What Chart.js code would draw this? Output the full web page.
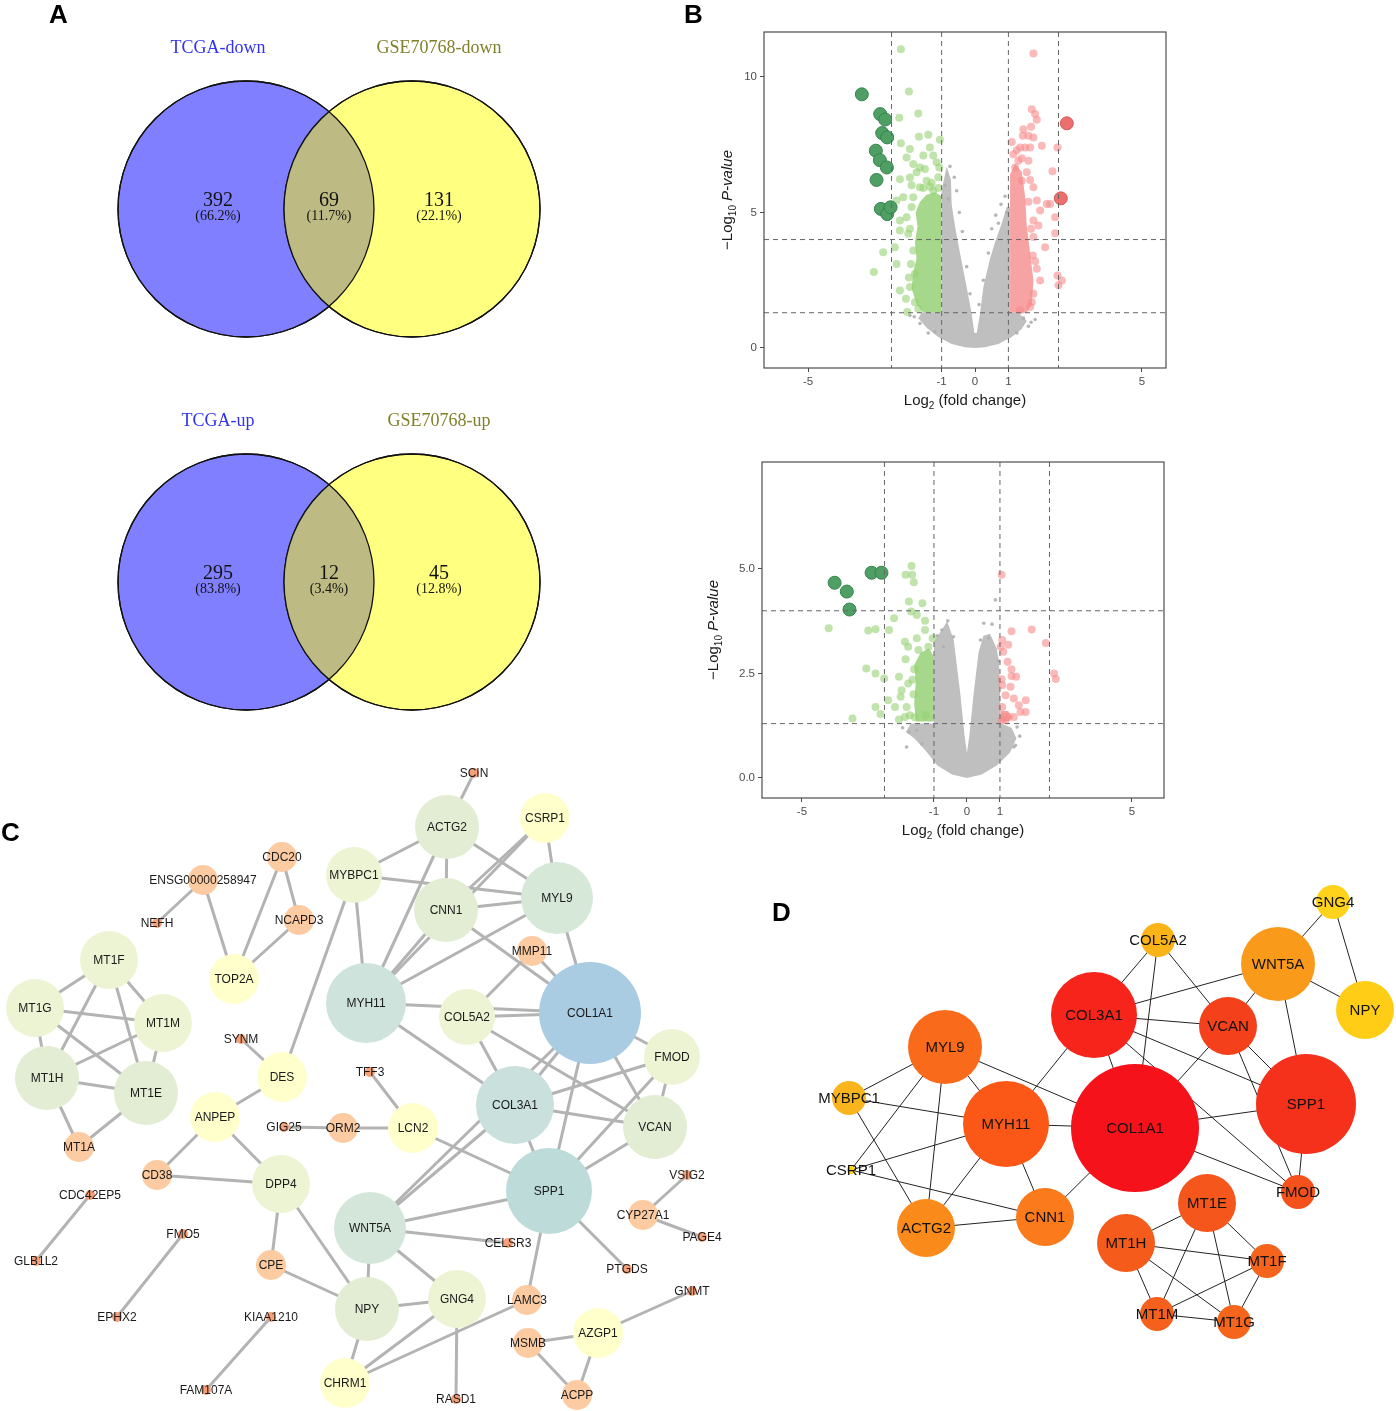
<!DOCTYPE html>
<html>
<head>
<meta charset="utf-8">
<script src="https://cdn.jsdelivr.net/npm/chart.js@4.4.1/dist/chart.umd.min.js"></script>
<style>
  body { margin: 0; background: #fff; }
  #page { position: relative; width: 1396px; height: 1411px; overflow: hidden; background: #fff; }
  canvas { position: absolute; }
  .tag { position: absolute; font: bold 26px "Liberation Sans", Arial, sans-serif; line-height: 26px; color: #000; }
</style>
</head>
<body>
<div id="page">
  <canvas id="venn" width="690" height="760" style="left:0;top:0"></canvas>
  <canvas id="volcUp" width="500" height="430" style="left:690px;top:0"></canvas>
  <canvas id="volcDown" width="500" height="420" style="left:690px;top:440px"></canvas>
  <canvas id="netC" width="760" height="651" style="left:0;top:760px"></canvas>
  <canvas id="netD" width="636" height="480" style="left:760px;top:870px"></canvas>
  <div class="tag" style="left:49px;top:1px">A</div>
  <div class="tag" style="left:684px;top:1px">B</div>
  <div class="tag" style="left:1px;top:819px">C</div>
  <div class="tag" style="left:772px;top:899px">D</div>
</div>
<script>
const FONT = '"Liberation Sans", Arial, sans-serif';

// ---- A: venn counts
const vennSets = [['TCGA-down', 'GSE70768-down'], ['TCGA-up', 'GSE70768-up']];
const vennCounts = [[392, 69, 131], [295, 12, 45]];
const vennPercents = [['66.2%', '11.7%', '22.1%'], ['83.8%', '3.4%', '12.8%']];

// ---- B: volcano plots, [log2FC, -log10 p]
const volcanoXTicks = [-5, -1, 0, 1, 5];
const upperYTicks = [0, 5, 10];
const lowerYTicks = [0, 2.5, 5];
const lowerYLabels = ['0.0', '2.5', '5.0'];
const fcCuts = [-2.5, -1, 1, 2.5];
const pCuts = [1.3, 4];

const upperDarkGreen = [[-3.39,9.36],[-2.84,8.63],[-2.69,8.43],[-2.78,7.93],[-2.63,7.77],[-2.97,7.28],[-2.85,6.93],[-2.64,6.66],[-2.95,6.2],[-2.82,5.13],[-2.63,4.94],[-2.53,5.19]];
const upperDarkRed = [[2.75,8.29],[2.57,5.52]];
const upperGreen = [[-2.22,11.02],[-1.98,9.46],[-2.27,8.5],[-1.7,8.65],[-1.68,7.79],[-1.4,7.87],[-1.05,7.68],[-2.22,7.55],[-1.95,7.34],[-1.35,7.4],[-2.05,7.03],[-1.85,6.79],[-1.65,6.66],[-1.15,6.85],[-1.07,6.66],[-2.25,6.23],[-1.95,6.29],[-1.75,6.48],[-1.45,6.17],[-1.65,5.93],[-1.25,5.8],[-2.35,5.44],[-2.15,5.56],[-1.85,5.56],[-2.45,5.19],[-2.25,4.7],[-2.05,4.82],[-2.25,4.33],[-2.0,4.21],[-2.4,3.72],[-2.75,3.53],[-1.85,3.6],[-3.03,2.8],[-2.35,3.1],[-2.25,2.12],[-2.07,1.82],[-2.03,1.33],[-1.95,2.25],[-1.8,2.74],[-1.8,1.69],[-1.55,5.9],[-1.3,6.1],[-1.1,6.3],[-1.9,5.2],[-1.95,4.4],[-1.92,3.1],[-1.98,2.6],[-1.7,1.45],[-1.5,6.6],[-1.25,7.1],[-1.55,7.1],[-1.9,6.0],[-1.35,5.95],[-1.1,5.9]];
const upperRed = [[1.75,10.87],[1.7,8.81],[1.8,8.63],[1.85,8.42],[1.68,8.16],[1.45,8.07],[1.43,7.83],[1.6,7.83],[1.75,7.77],[1.35,7.4],[1.5,7.4],[1.65,7.4],[2.0,7.46],[2.47,7.4],[1.15,7.15],[1.3,6.91],[1.6,6.91],[1.2,6.66],[1.55,6.48],[2.32,6.52],[1.4,6.17],[1.75,5.93],[1.85,5.44],[2.15,5.31],[2.25,5.31],[1.95,5.07],[2.4,4.82],[1.75,4.7],[1.9,4.52],[2.4,4.23],[1.75,4.09],[2.1,3.72],[1.73,3.41],[1.85,2.92],[1.95,2.49],[2.47,2.67],[2.6,2.49],[2.5,2.31],[1.75,2.0],[1.7,1.69],[1.65,1.51],[1.35,1.39],[1.1,7.6],[1.25,7.3],[1.4,7.0],[1.65,6.2],[1.6,5.4],[1.68,4.4],[1.8,3.2]];
const upperGray = [[-0.75,6.7],[-0.62,6.3],[-0.55,5.8],[-0.47,5.0],[-0.38,4.3],[0.5,4.4],[0.62,4.9],[0.78,5.3],[0.9,5.6],[-1.65,0.9],[-1.4,0.55],[1.68,0.95],[1.6,0.8],[0.4,3.5],[-0.25,3.0],[0.25,2.5],[-1.82,1.15],[1.45,1.1],[-0.9,6.0],[-0.8,5.5],[0.95,5.0],[0.7,4.6],[-0.15,2.0],[0.12,1.6],[1.8,1.05],[-1.95,1.2],[-1.2,0.6],[1.25,0.55]];
// outlines of the dense point clouds
const upperGrayCloud = [[-1.0,5.8],[-0.85,6.7],[-0.72,6.2],[-0.7,5.3],[-0.6,4.5],[-0.45,3.5],[-0.25,2.25],[-0.1,1.26],[-0.02,0.55],[0.05,0.55],[0.15,1.26],[0.25,2.25],[0.45,3.3],[0.6,3.9],[0.8,4.6],[0.95,5.2],[1.05,5.2],[1.05,1.3],[1.3,1.3],[1.55,1.0],[1.4,0.7],[1.1,0.4],[0.7,0.15],[0.3,0.03],[0,0],[-0.3,0.03],[-0.7,0.15],[-1.1,0.4],[-1.45,0.75],[-1.7,1.1],[-1.6,1.3],[-1.0,1.3]];
const upperGreenCloud = [[-1.0,1.3],[-1.55,1.3],[-1.75,1.6],[-1.9,2.2],[-1.85,2.8],[-1.75,3.3],[-1.8,3.9],[-1.72,4.5],[-1.78,5.0],[-1.65,5.4],[-1.45,5.65],[-1.2,5.75],[-1.0,5.6]];
const upperRedCloud = [[1.05,1.3],[1.05,6.4],[1.2,6.8],[1.4,6.5],[1.5,5.6],[1.55,4.5],[1.65,3.5],[1.75,2.5],[1.7,1.6],[1.55,1.3]];

const lowerDarkGreen = [[-4.01,4.67],[-3.64,4.46],[-3.56,4.03],[-2.89,4.91],[-2.59,4.91]];
const lowerDarkRed = [];
const lowerGreen = [[-4.19,3.58],[-3.47,1.42],[-3.05,2.62],[-2.99,3.53],[-2.77,3.56],[-2.77,2.5],[-2.77,1.7],[-2.62,1.53],[-2.51,2.38],[-2.39,1.86],[-2.36,3.54],[-2.21,3.82],[-2.18,1.7],[-2.06,2.42],[-2.01,1.94],[-1.86,4.86],[-1.68,5.07],[-1.66,4.86],[-1.61,4.68],[-1.76,4.22],[-1.69,3.98],[-1.52,3.9],[-1.35,4.18],[-1.27,3.76],[-1.88,3.26],[-1.78,3.14],[-1.52,3.34],[-1.27,3.54],[-1.04,3.34],[-1.86,2.84],[-1.47,3.06],[-1.17,3.14],[-1.78,2.26],[-1.98,2.1],[-1.83,1.7],[-1.88,1.46],[-2.06,1.4],[-1.73,1.5],[-1.6,2.6],[-1.62,2.0],[-1.58,1.45],[-1.25,1.5],[-1.65,2.35]];
const lowerRed = [[1.05,4.86],[1.07,3.3],[1.35,3.51],[1.96,3.55],[2.39,3.23],[1.25,3.19],[1.1,3.02],[1.02,3.14],[1.23,2.78],[1.35,2.6],[1.49,2.42],[1.35,2.44],[1.05,2.36],[1.32,2.18],[1.07,2.22],[1.17,1.98],[1.42,1.9],[1.78,1.86],[1.57,1.74],[1.07,1.7],[1.62,1.58],[1.78,1.58],[1.42,1.46],[1.12,1.46],[1.27,1.46],[1.17,1.38],[2.64,2.5],[2.69,2.37],[1.05,1.38]];
const lowerGray = [[-0.58,3.76],[-0.76,3.54],[-0.41,3.38],[-0.71,3.14],[0.51,3.7],[0.76,3.68],[0.41,3.3],[0.86,4.26],[0.96,2.8],[-1.76,1.1],[-1.83,0.74],[-1.37,0.82],[1.52,1.22],[1.42,0.74],[1.47,0.78],[-1.52,1.14],[-0.9,3.4],[0.65,3.35],[-1.95,1.2],[1.6,1.0]];
const lowerGrayCloud = [[-1.0,1.3],[-1.0,3.25],[-0.8,3.5],[-0.6,3.75],[-0.4,3.3],[-0.2,2.0],[-0.07,1.0],[0,0.6],[0.07,1.0],[0.2,2.0],[0.35,3.0],[0.5,3.4],[0.7,3.45],[0.9,3.1],[0.97,2.8],[1.03,1.3],[1.35,1.2],[1.5,0.95],[1.3,0.6],[0.9,0.3],[0.45,0.08],[0,0],[-0.45,0.08],[-0.9,0.3],[-1.25,0.65],[-1.6,0.95],[-1.85,1.1],[-1.7,1.3]];
const lowerGreenCloud = [[-1.0,1.35],[-1.55,1.35],[-1.6,1.8],[-1.55,2.3],[-1.6,2.7],[-1.4,3.0],[-1.15,3.1],[-1.0,2.9]];
const lowerRedCloud = [[1.02,1.35],[1.02,1.6],[1.25,1.6],[1.35,1.45],[1.25,1.35]];

// ---- C: PPI network
const cNames = ['SCIN','ACTG2','CSRP1','MYBPC1','CNN1','MYL9','MMP11','COL1A1','COL5A2','MYH11','FMOD','COL3A1','VCAN','SPP1','LCN2','TFF3','ORM2','GIG25','DES','SYNM','ANPEP','CD38','DPP4','CPE','NPY','WNT5A','GNG4','CHRM1','RASD1','CELSR3','LAMC3','PTGDS','AZGP1','MSMB','ACPP','GNMT','CYP27A1','VSIG2','PAGE4','CDC20','ENSG00000258947','NEFH','NCAPD3','TOP2A','MT1F','MT1G','MT1M','MT1H','MT1E','MT1A','CDC42EP5','GLB1L2','FMO5','EPHX2','KIAA1210','FAM107A'];
const cX = [474,447,545,354,446,557,532,590,467,366,672,515,655,549,413,370,343,284,282,241,215,157,281,271,367,370,457,345,456,508,527,627,598,528,577,692,643,687,702,282,203,157,299,234,109,35,163,47,146,79,90,36,183,117,271,206];
const cY = [773,827,818,875,910,898,951,1013,1017,1003,1057,1105,1127,1191,1128,1072,1128,1127,1077,1039,1117,1175,1184,1265,1309,1228,1299,1383,1399,1243,1300,1269,1333,1343,1395,1291,1215,1175,1237,857,880,923,920,979,960,1008,1023,1078,1093,1147,1195,1261,1234,1317,1317,1390];
const cSize = [5,32,25,28,32,36,15,51,28,40,28,39,32,43,25,5,15,5,25,5,25,15,29,15,32,36,29,25,5,5,15,5,25,15,15,5,15,5,5,15,15,5,15,25,29,29,29,32,32,15,5,5,5,5,5,5];
const cEdges = [['SCIN','ACTG2'],['ACTG2','MYBPC1'],['ACTG2','CNN1'],['ACTG2','MYL9'],['ACTG2','MYH11'],['CSRP1','MYL9'],['CSRP1','CNN1'],['CSRP1','MYH11'],['MYBPC1','MYL9'],['MYBPC1','MYH11'],['MYBPC1','DES'],['CNN1','MYL9'],['CNN1','MYH11'],['CNN1','COL1A1'],['MYL9','MYH11'],['MYL9','COL1A1'],['MMP11','COL1A1'],['MMP11','COL5A2'],['MYH11','COL1A1'],['COL5A2','COL1A1'],['MYH11','COL3A1'],['COL5A2','COL3A1'],['COL5A2','VCAN'],['COL1A1','FMOD'],['COL1A1','VCAN'],['COL1A1','COL3A1'],['COL1A1','SPP1'],['COL1A1','WNT5A'],['COL3A1','WNT5A'],['FMOD','COL3A1'],['FMOD','SPP1'],['FMOD','VCAN'],['VCAN','COL3A1'],['VCAN','SPP1'],['COL3A1','SPP1'],['LCN2','SPP1'],['LCN2','TFF3'],['LCN2','ORM2'],['ORM2','GIG25'],['SPP1','WNT5A'],['SPP1','LAMC3'],['SPP1','PTGDS'],['WNT5A','CELSR3'],['WNT5A','NPY'],['WNT5A','GNG4'],['NPY','GNG4'],['NPY','CHRM1'],['NPY','DPP4'],['NPY','CPE'],['CHRM1','GNG4'],['CHRM1','LAMC3'],['GNG4','RASD1'],['MSMB','AZGP1'],['MSMB','ACPP'],['AZGP1','ACPP'],['AZGP1','GNMT'],['CYP27A1','VSIG2'],['CYP27A1','PAGE4'],['DPP4','CPE'],['DPP4','CD38'],['DPP4','ANPEP'],['ANPEP','CD38'],['ANPEP','DES'],['DES','SYNM'],['CDC20','TOP2A'],['CDC20','NCAPD3'],['NCAPD3','TOP2A'],['ENSG00000258947','TOP2A'],['ENSG00000258947','NEFH'],['MT1F','MT1G'],['MT1F','MT1M'],['MT1F','MT1H'],['MT1F','MT1E'],['MT1G','MT1M'],['MT1G','MT1H'],['MT1G','MT1E'],['MT1H','MT1M'],['MT1H','MT1E'],['MT1M','MT1E'],['MT1H','MT1A'],['MT1E','MT1A'],['CDC42EP5','GLB1L2'],['FMO5','EPHX2'],['KIAA1210','FAM107A']];

// ---- D: hub genes
const dNames = ['GNG4','COL5A2','WNT5A','NPY','COL3A1','VCAN','MYL9','MYBPC1','SPP1','MYH11','COL1A1','CSRP1','FMOD','MT1E','ACTG2','CNN1','MT1H','MT1F','MT1M','MT1G'];
const dX = [1333,1158,1278,1365,1094,1228,945,849,1306,1006,1135,851,1298,1207,926,1045,1126,1267,1157,1234];
const dY = [902,940,964,1010,1015,1026,1047,1098,1104,1124,1128,1170,1192,1203,1228,1217,1243,1261,1314,1322];
const dSize = [17,17,37,29,43,29,37,17,50,43,64,4,17,29,29,29,29,17,17,17];
const dEdges = [['GNG4','WNT5A'],['GNG4','NPY'],['WNT5A','NPY'],['WNT5A','COL3A1'],['WNT5A','VCAN'],['WNT5A','SPP1'],['COL5A2','COL3A1'],['COL5A2','COL1A1'],['COL5A2','VCAN'],['COL3A1','VCAN'],['COL3A1','SPP1'],['COL3A1','COL1A1'],['COL3A1','MYH11'],['COL3A1','FMOD'],['VCAN','COL1A1'],['VCAN','SPP1'],['VCAN','FMOD'],['SPP1','COL1A1'],['SPP1','FMOD'],['COL1A1','FMOD'],['MYL9','MYBPC1'],['MYL9','CSRP1'],['MYL9','ACTG2'],['MYL9','MYH11'],['MYL9','COL1A1'],['MYBPC1','MYH11'],['MYBPC1','ACTG2'],['CSRP1','MYH11'],['CSRP1','CNN1'],['MYH11','COL1A1'],['MYH11','ACTG2'],['MYH11','CNN1'],['ACTG2','CNN1'],['CNN1','COL1A1'],['MT1E','MT1H'],['MT1E','MT1F'],['MT1E','MT1M'],['MT1E','MT1G'],['MT1H','MT1F'],['MT1H','MT1M'],['MT1H','MT1G'],['MT1F','MT1M'],['MT1F','MT1G'],['MT1M','MT1G']];

// styles
const cPalette = { dot: '#f6a07a', org: '#fdcba1', yel: '#ffffcc', g28: '#edf4d3', g32: '#e2edd4' };
const cColors = cNames.map((n, i) => ({MYL9:'#d6e8d8', WNT5A:'#d3e6d9', MYH11:'#cee3dc', COL3A1:'#c9e0dc', SPP1:'#bcdbd9', COL1A1:'#a9cce3'})[n]
  || (cSize[i] <= 5 ? cPalette.dot : cSize[i] <= 15 ? cPalette.org : cSize[i] <= 25 ? cPalette.yel : cSize[i] <= 29 ? cPalette.g28 : cPalette.g32));
const dColors = ['#ffd31c','#fbb417','#fa9a1b','#ffcd15','#f6241a','#f4411b','#fa6a1b','#fbb51c','#f5311c','#fb5817','#f6121a','#ffd21a','#f5511b','#f5561b','#fa8b1b','#fb7a1b','#f55b1b','#f5641c','#f5601c','#f5651c'];

const base = { responsive: false, animation: false, events: [], plugins: { legend: { display: false }, tooltip: { enabled: false } } };
const hidden = (min, max, reverse) => ({ type: 'linear', display: false, min, max, reverse: !!reverse });

// ---------- A ----------
const vennCx = [246, 412], vennCy = [209, 582], vennR = 128;
const vennPlugin = {
  id: 'vennDraw',
  afterDatasetsDraw(chart) {
    const ctx = chart.ctx;
    chart.data.datasets.forEach((ds, k) => {
      const [a, b] = chart.getDatasetMeta(k).data;
      ctx.save();
      ctx.beginPath(); ctx.arc(a.x, a.y, a.options.radius, 0, Math.PI * 2); ctx.clip();
      ctx.beginPath(); ctx.arc(b.x, b.y, b.options.radius, 0, Math.PI * 2);
      ctx.fillStyle = '#bdbb83'; ctx.fill();
      ctx.restore();
      ctx.save();
      ctx.strokeStyle = '#111'; ctx.lineWidth = 1.3;
      [a, b].forEach(el => { ctx.beginPath(); ctx.arc(el.x, el.y, el.options.radius, 0, Math.PI * 2); ctx.stroke(); });
      ctx.textAlign = 'center'; ctx.textBaseline = 'middle';
      ctx.font = '18px "Liberation Serif", serif';
      ctx.fillStyle = '#3232f0'; ctx.fillText(vennSets[k][0], a.x - 28, a.y - 161);
      ctx.fillStyle = '#80802a'; ctx.fillText(vennSets[k][1], b.x + 27, b.y - 161);
      const xs = [a.x - 28, (a.x + b.x) / 2, b.x + 27];
      ctx.fillStyle = '#111';
      xs.forEach((x, i) => {
        ctx.font = '20px "Liberation Serif", serif';
        ctx.fillText(String(vennCounts[k][i]), x, a.y - 8);
        ctx.font = '14px "Liberation Serif", serif';
        ctx.fillText('(' + vennPercents[k][i] + ')', x, a.y + 7);
      });
      ctx.restore();
    });
  }
};
new Chart(document.getElementById('venn'), {
  type: 'bubble',
  data: { datasets: vennCy.map(cy => ({
    data: vennCx.map(cx => ({ x: cx, y: cy, r: vennR })),
    backgroundColor: ['#7f7fff', '#ffff80'], borderColor: '#111', borderWidth: 1.3, clip: false
  })) },
  options: { ...base, layout: { padding: 0, autoPadding: false }, scales: { x: hidden(0, 690), y: hidden(0, 760, true) } },
  plugins: [vennPlugin]
});

// ---------- B ----------
function richText(ctx, runs, cx, cy) {
  let w = 0;
  runs.forEach(r => { ctx.font = r.font; r.w = ctx.measureText(r.t).width; w += r.w; });
  let x = cx - w / 2;
  ctx.textAlign = 'left'; ctx.textBaseline = 'middle';
  runs.forEach(r => { ctx.font = r.font; ctx.fillText(r.t, x, cy + (r.dy || 0)); x += r.w; });
}
function volcano(id, cfg) {
  const pts = a => a.map(([x, y]) => ({ x, y }));
  const deco = {
    id: 'volcDeco',
    beforeDatasetsDraw(chart) {
      const { ctx, chartArea: ca, scales: { x, y } } = chart;
      ctx.save();
      ctx.beginPath(); ctx.rect(ca.left, ca.top, ca.width, ca.height); ctx.clip();
      cfg.clouds.forEach(([poly, color]) => {
        ctx.beginPath();
        poly.forEach(([px, py], i) => {
          const X = x.getPixelForValue(px), Y = y.getPixelForValue(py);
          i ? ctx.lineTo(X, Y) : ctx.moveTo(X, Y);
        });
        ctx.closePath(); ctx.fillStyle = color; ctx.fill();
      });
      ctx.restore();
    },
    afterDatasetsDraw(chart) {
      const { ctx, chartArea: ca, scales: { x, y } } = chart;
      ctx.save();
      ctx.strokeStyle = '#666'; ctx.lineWidth = 1; ctx.setLineDash([5, 4]);
      fcCuts.forEach(v => { const X = x.getPixelForValue(v); ctx.beginPath(); ctx.moveTo(X, ca.top); ctx.lineTo(X, ca.bottom); ctx.stroke(); });
      pCuts.forEach(v => { const Y = y.getPixelForValue(v); ctx.beginPath(); ctx.moveTo(ca.left, Y); ctx.lineTo(ca.right, Y); ctx.stroke(); });
      ctx.setLineDash([]);
      ctx.strokeStyle = '#4d4d4d'; ctx.lineWidth = 1.2;
      ctx.strokeRect(ca.left, ca.top, ca.width, ca.height);
      ctx.fillStyle = '#1a1a1a';
      richText(ctx, [{ t: 'Log', font: '15px ' + FONT }, { t: '2', font: '10px ' + FONT, dy: 5 }, { t: ' (fold change)', font: '15px ' + FONT }],
        (ca.left + ca.right) / 2, ca.bottom + 33);
      ctx.translate(ca.left - cfg.ytitle, (ca.top + ca.bottom) / 2);
      ctx.rotate(-Math.PI / 2);
      richText(ctx, [{ t: '\u2212Log', font: '15px ' + FONT }, { t: '10', font: '10px ' + FONT, dy: 5 }, { t: ' ', font: '15px ' + FONT }, { t: 'P-value', font: 'italic 15px ' + FONT }], 0, 0);
      ctx.restore();
    }
  };
  const axis = (min, max, ticks, labels, fit) => ({
    type: 'linear', min, max,
    afterBuildTicks: s => { s.ticks = ticks.map(v => ({ value: v })); },
    afterFit: fit,
    grid: { drawOnChartArea: false, drawTicks: true, tickLength: 4, color: '#4d4d4d' },
    border: { display: false },
    ticks: { color: '#4d4d4d', font: { size: 11.5, family: FONT }, padding: 3, autoSkip: false, maxRotation: 0, callback: (v, i) => labels[i] }
  });
  return new Chart(document.getElementById(id), {
    type: 'scatter',
    data: { datasets: [
      { data: pts(cfg.darkRed), pointRadius: 6.5, backgroundColor: '#ec6f6f', borderColor: '#d65a5a', borderWidth: 1 },
      { data: pts(cfg.darkGreen), pointRadius: 6.5, backgroundColor: '#4f9f65', borderColor: '#35844c', borderWidth: 1 },
      { data: pts(cfg.red), pointRadius: 4, backgroundColor: 'rgba(247,140,140,0.6)', borderWidth: 0 },
      { data: pts(cfg.green), pointRadius: 4, backgroundColor: 'rgba(150,210,115,0.6)', borderWidth: 0 },
      { data: pts(cfg.gray), pointRadius: 1.8, backgroundColor: 'rgba(175,175,175,0.9)', borderWidth: 0 }
    ] },
    options: {
      ...base,
      layout: { padding: cfg.pad, autoPadding: false },
      scales: {
        x: axis(cfg.xr[0], cfg.xr[1], volcanoXTicks, volcanoXTicks.map(String), s => { s.height = cfg.xh; }),
        y: axis(cfg.yr[0], cfg.yr[1], cfg.yTicks, cfg.yLabels, s => { s.width = cfg.yw; })
      }
    },
    plugins: [deco]
  });
}
volcano('volcUp', {
  darkRed: upperDarkRed, darkGreen: upperDarkGreen, red: upperRed, green: upperGreen, gray: upperGray,
  clouds: [[upperGrayCloud, '#bfbfbf'], [upperGreenCloud, '#a5d88b'], [upperRedCloud, '#f7a3a3']],
  xr: [-6.32, 5.72], yr: [-0.74, 11.66], yTicks: upperYTicks, yLabels: upperYTicks.map(String),
  pad: { left: 28, top: 32, right: 24, bottom: 17 }, yw: 46, xh: 45, ytitle: 36
});
volcano('volcDown', {
  darkRed: lowerDarkRed, darkGreen: lowerDarkGreen, red: lowerRed, green: lowerGreen, gray: lowerGray,
  clouds: [[lowerGrayCloud, '#bfbfbf'], [lowerGreenCloud, '#a5d88b'], [lowerRedCloud, '#f7a3a3']],
  xr: [-6.21, 5.97], yr: [-0.48, 7.56], yTicks: lowerYTicks, yLabels: lowerYLabels,
  pad: { left: 16, top: 22, right: 26, bottom: 16 }, yw: 56, xh: 46, ytitle: 48
});

// ---------- C and D ----------
function network(id, names, xs, ys, sizes, colors, edges, look) {
  const idx = Object.fromEntries(names.map((n, i) => [n, i]));
  const labels = {
    id: 'nodeLabels',
    afterDatasetsDraw(chart) {
      const ctx = chart.ctx;
      ctx.save();
      ctx.font = look.font; ctx.fillStyle = look.text; ctx.textAlign = 'center'; ctx.textBaseline = 'middle';
      chart.getDatasetMeta(0).data.forEach((el, i) => ctx.fillText(names[i], el.x, el.y + 1));
      ctx.restore();
    }
  };
  const nodes = { type: 'bubble', data: names.map((n, i) => ({ x: xs[i], y: ys[i], r: sizes[i] })), backgroundColor: colors, borderWidth: 0, clip: false, order: 0 };
  const links = edges.map(([a, b]) => ({
    type: 'scatter', showLine: true, order: 1, clip: false,
    data: [{ x: xs[idx[a]], y: ys[idx[a]] }, { x: xs[idx[b]], y: ys[idx[b]] }],
    borderColor: look.edge, borderWidth: look.width, pointRadius: 0
  }));
  new Chart(document.getElementById(id), {
    type: 'bubble',
    data: { datasets: [nodes, ...links] },
    options: { ...base, layout: { padding: 0, autoPadding: false }, scales: { x: hidden(look.x[0], look.x[1]), y: hidden(look.y[0], look.y[1], true) } },
    plugins: [labels]
  });
}
network('netC', cNames, cX, cY, cSize, cColors, cEdges,
  { font: '12px ' + FONT, text: '#1a1a1a', edge: '#b3b3b3', width: 3, x: [0, 760], y: [760, 1411] });
network('netD', dNames, dX, dY, dSize, dColors, dEdges,
  { font: '15px ' + FONT, text: '#111', edge: '#222', width: 1, x: [760, 1396], y: [870, 1350] });
</script>
</body>
</html>
